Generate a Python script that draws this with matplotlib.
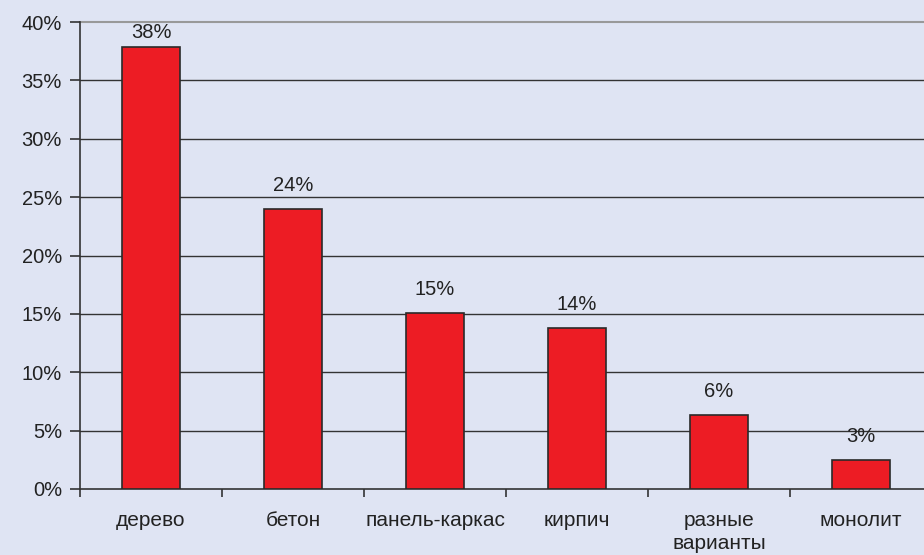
import matplotlib.pyplot as plt
import numpy as np

plt.rcParams["font.family"] = ["Liberation Sans", "DejaVu Sans"]

categories = ["дерево", "бетон", "панель-каркас", "кирпич", "разные\nварианты", "монолит"]
values = [37.9, 24.0, 15.1, 13.8, 6.3, 2.5]
value_labels = ["38%", "24%", "15%", "14%", "6%", "3%"]
y_ticks = [0, 5, 10, 15, 20, 25, 30, 35, 40]

bg = "#dfe4f3"
fig = plt.figure(figsize=(9.24, 5.55), dpi=100, facecolor=bg)
ax = fig.add_axes([80 / 924, 1 - 489 / 555, 852 / 924, 467 / 555], facecolor=bg)

x = np.arange(len(categories))
ax.bar(x, values, width=0.41, color="#ed1c24", edgecolor="#2a2a2a", linewidth=1.2, zorder=3)
for xi, v, lab in zip(x, values, value_labels):
    # labels sit above the bar, but are kept inside the plot area at the top
    ax.text(xi, min(v + 1.2, 38.3), lab, ha="center", va="bottom", fontsize=14.5, color="#222222")

ax.set_xlim(-0.5, len(categories) - 0.5)
ax.set_ylim(0, 40)
ax.set_yticks(y_ticks)
ax.set_yticklabels([f"{t}%" for t in y_ticks], fontsize=14.5, color="#222222")
for t in y_ticks[1:-1]:
    ax.axhline(t, color="#333333", linewidth=1.0, zorder=1)
ax.axhline(40, color="#999999", linewidth=1.5, zorder=1, clip_on=False)

ax.set_xticks(x)
ax.set_xticklabels(categories, fontsize=15, color="#222222", linespacing=1.25)
ax.tick_params(axis="x", length=0, pad=16)
ax.set_xticks(np.arange(len(categories) + 1) - 0.5, minor=True)
ax.tick_params(axis="x", which="minor", length=6, width=1.2, color="#333333")
ax.tick_params(axis="y", length=7, width=1.2, color="#333333", pad=6)

for side in ["top", "right"]:
    ax.spines[side].set_visible(False)
for side in ["left", "bottom"]:
    ax.spines[side].set_color("#333333")
    ax.spines[side].set_linewidth(1.2)

fig.savefig("out.png", dpi=100, facecolor=bg)
